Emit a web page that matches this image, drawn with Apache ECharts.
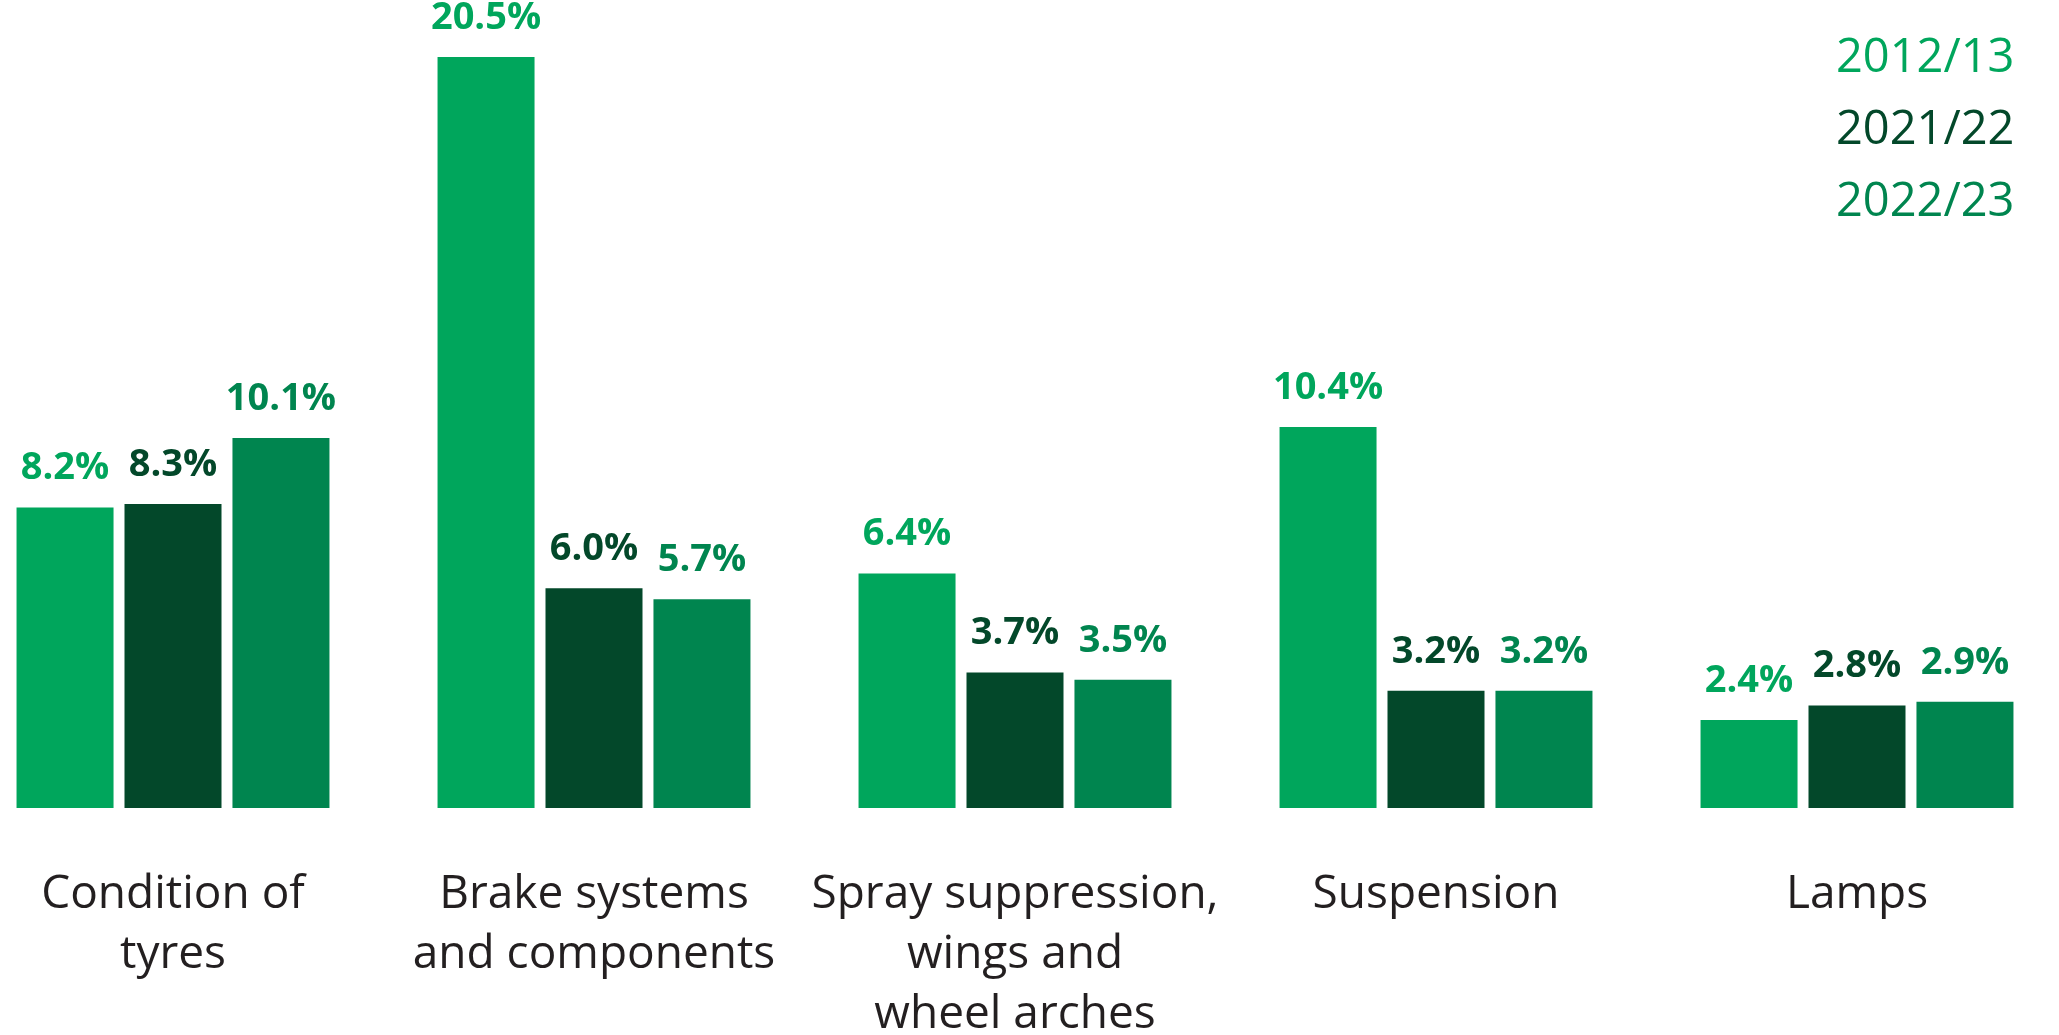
<!DOCTYPE html>
<html>
<head>
<meta charset="utf-8">
<script src="https://cdn.jsdelivr.net/npm/echarts@6/dist/echarts.min.js"></script>
<style>html,body{margin:0;padding:0;background:#fff}#c{width:2059px;height:1035px}</style>
</head>
<body>
<div id="c"></div>
<script>
const categories = ['Condition of\ntyres', 'Brake systems\nand components', 'Spray suppression,\nwings and\nwheel arches', 'Suspension', 'Lamps'];
const seriesNames = ['2012/13', '2021/22', '2022/23'];
const values2012 = [8.2, 20.5, 6.4, 10.4, 2.4];
const values2021 = [8.3, 6.0, 3.7, 3.2, 2.8];
const values2022 = [10.1, 5.7, 3.5, 3.2, 2.9];
const colors = ['#00a65c', '#03482a', '#00854f'];

const chart = echarts.init(document.getElementById('c'));
const allValues = [values2012, values2021, values2022];
chart.setOption({
  animation: false,
  grid: { left: -37.5, right: -8.5, top: 2, bottom: 227, containLabel: false, outerBoundsMode: 'none' },
  legend: {
    orient: 'vertical',
    left: 1826,
    top: 30,
    icon: 'none',
    itemWidth: 0,
    itemHeight: 48,
    itemGap: 24,
    selectedMode: false,
    textStyle: { fontFamily: 'Open Sans', fontSize: 47, lineHeight: 48, padding: 0 },
    data: seriesNames.map((n, i) => ({ name: n, textStyle: { color: colors[i] } }))
  },
  xAxis: {
    type: 'category',
    data: categories,
    axisLine: { show: false },
    axisTick: { show: false },
    axisLabel: {
      interval: 0,
      margin: 57,
      fontFamily: 'Open Sans',
      fontSize: 46,
      lineHeight: 60,
      color: '#231f20'
    }
  },
  yAxis: { type: 'value', min: 0, max: 22, show: false, splitLine: { show: false } },
  series: seriesNames.map((n, i) => ({
    name: n,
    type: 'bar',
    data: allValues[i],
    barWidth: 97,
    barGap: '11.3%',
    itemStyle: { color: colors[i] },
    label: {
      show: true,
      position: 'top',
      distance: 20,
      fontFamily: 'Open Sans',
      fontWeight: 'bold',
      fontSize: 38,
      color: colors[i],
      formatter: p => p.value.toFixed(1) + '%'
    }
  }))
});
</script>
</body>
</html>
